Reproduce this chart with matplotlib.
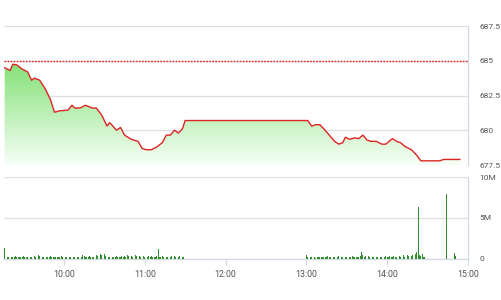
import matplotlib
matplotlib.use("Agg")
import matplotlib.pyplot as plt
import numpy as np
from matplotlib.patches import Polygon

plt.rcParams["font.family"] = ["Roboto", "DejaVu Sans"]

# ---------------- data ----------------
price_times = ["09:16", "09:20", "09:22", "09:25", "09:29", "09:33", "09:36", "09:38", "09:42", "09:46",
               "09:50", "09:53", "09:57", "10:03", "10:06", "10:08", "10:12", "10:16", "10:21", "10:24",
               "10:28", "10:32", "10:34", "10:39", "10:42", "10:45", "10:50", "10:55", "10:58", "11:01",
               "11:05", "11:09", "11:13", "11:16", "11:19", "11:22", "11:25", "11:28", "11:30", "13:01",
               "13:04", "13:07", "13:10", "13:13", "13:17", "13:21", "13:24", "13:27", "13:29", "13:32",
               "13:36", "13:39", "13:42", "13:45", "13:48", "13:52", "13:56", "13:59", "14:04", "14:07",
               "14:10", "14:13", "14:18", "14:22", "14:25", "14:39", "14:42", "14:54"]
price_values = [684.5, 684.3, 684.75, 684.7, 684.4, 684.2, 683.6, 683.75, 683.6, 683.0,
                682.2, 681.3, 681.4, 681.45, 681.8, 681.6, 681.6, 681.8, 681.6, 681.6,
                681.1, 680.3, 680.55, 680.0, 680.2, 679.65, 679.35, 679.2, 678.7, 678.6,
                678.6, 678.8, 679.1, 679.65, 679.65, 680.0, 679.8, 680.1, 680.7, 680.7,
                680.3, 680.4, 680.4, 680.1, 679.65, 679.2, 679.0, 679.1, 679.5, 679.35,
                679.45, 679.4, 679.65, 679.3, 679.2, 679.2, 679.0, 679.0, 679.4, 679.2,
                679.1, 678.85, 678.6, 678.2, 677.8, 677.8, 677.9, 677.9]
reference_price = 685.0

# volume in units of 100k shares, one bar per minute
vol_am_start = "09:16"
vol_am = [13, 2, 3, 2, 4, 3, 2, 3, 4, 3, 2, 3, 3, 2, 4, 3, 2, 3, 2, 3,
          3, 2, 4, 3, 3, 5, 4, 4, 3, 2, 3, 3, 2, 3, 4, 3, 2, 3, 3, 2,
          3, 2, 4, 3, 2, 3, 3, 4, 3, 2, 3, 3, 2, 4, 3, 3, 4, 3, 5, 4,
          3, 2, 3, 4, 3, 2, 3, 4, 5, 4, 3, 6, 5, 12, 6, 4, 3, 2, 3, 4,
          3, 2, 3, 4, 3, 3, 2, 4, 3, 4, 3, 5, 4, 3, 4, 3, 4, 5, 4, 3,
          4, 3, 5, 4, 3, 2, 3, 4, 3, 4, 3, 2, 3, 4, 12, 3, 2, 4, 3, 2,
          3, 2, 3, 3, 4, 3, 4, 3, 5, 3, 4, 7, 3, 2]
vol_pm_start = "13:00"
vol_pm = [5, 2, 1, 2, 2, 3, 2, 1, 2, 3, 2, 3, 2, 3, 2, 3, 4, 3, 2, 3,
          2, 3, 3, 2, 4, 3, 3, 2, 3, 2, 3, 2, 3, 3, 4, 3, 2, 3, 2, 3,
          4, 8, 5, 3, 4, 3, 4, 3, 4, 3, 3, 4, 3, 2, 4, 3, 3, 2, 3, 4,
          3, 2, 4, 3, 3, 4, 3, 2, 3, 4, 3, 4, 5, 3, 4, 5, 4, 5, 4, 5,
          4, 6, 9, 63, 5, 4, 6, 3, 2]
vol_atc_times = ["14:44", "14:50", "14:51"]
vol_atc = [79, 7, 4]

x_ticks = ["10:00", "11:00", "12:00", "13:00", "14:00", "15:00"]
price_ticks = [677.5, 680, 682.5, 685, 687.5]
price_tick_labels = ["677.5", "680", "682.5", "685", "687.5"]
vol_ticks = [0, 5e6, 10e6]
vol_tick_labels = ["0", "5M", "10M"]


def to_min(s):
    h, m = s.split(":")
    return int(h) * 60 + int(m) - 9 * 60


px = np.array([to_min(t) for t in price_times], dtype=float)
py = np.array(price_values)
vx = ([to_min(vol_am_start) + i for i in range(len(vol_am))]
      + [to_min(vol_pm_start) + i for i in range(len(vol_pm))]
      + [to_min(t) for t in vol_atc_times])
vy = np.array(vol_am + vol_pm + vol_atc, dtype=float) * 1e5

# ---------------- figure ----------------
fig = plt.figure(figsize=(5.01, 3.0), dpi=100)
grid_c = "#dcdfe4"
spine_c = "#d3dae6"
text_c = "#555555"
xmin, xmax = 15.5, 360

ax = fig.add_axes([0.008, 0.45, 0.926, 0.4633])
ax.set_xlim(xmin, xmax)
ax.set_ylim(677.5, 687.5)

# gradient fill under line
grad = np.linspace(0, 1, 256).reshape(-1, 1)
top = np.array([0.50, 0.88, 0.45])
bot = np.array([0.97, 1.0, 0.97])
cols = top[None, None, :] * (1 - grad[:, :, None]) + bot[None, None, :] * grad[:, :, None]
cols = np.repeat(cols, 2, axis=1)
im = ax.imshow(cols, extent=[xmin, xmax, 677.5, 685.0], origin="upper",
               aspect="auto", zorder=1)
verts = [(px[0], 677.5)] + list(zip(px, py)) + [(px[-1], 677.5)]
poly = Polygon(verts, closed=True, facecolor="none", edgecolor="none")
ax.add_patch(poly)
im.set_clip_path(poly)

ax.plot(px, py, color="#e02424", lw=1.0, zorder=3)
ax.axhline(reference_price, color="#e02424", lw=1.0, ls=(0, (1.2, 1.0)), zorder=3)

ax.set_yticks(price_ticks)
ax.set_yticklabels(price_tick_labels)
ax.yaxis.tick_right()
ax.tick_params(axis="y", length=0, pad=8, labelsize=6.0, labelcolor=text_c)
ax.set_xticks([to_min(t) for t in x_ticks])
ax.tick_params(axis="x", length=0, labelbottom=False)
ax.grid(True, axis="y", color=grid_c, lw=0.9)
ax.grid(False, axis="x")
for s in ["left", "top", "bottom"]:
    ax.spines[s].set_visible(False)
ax.spines["right"].set_color(spine_c)
ax.spines["right"].set_linewidth(0.9)
ax.set_axisbelow(True)

# volume
ax2 = fig.add_axes([0.008, 0.1367, 0.926, 0.2733])
ax2.set_xlim(xmin, xmax)
ax2.set_ylim(0, 10e6)
ax2.bar(vx, vy, width=0.6, color="#2f8f2f", zorder=3)
ax2.set_yticks(vol_ticks)
ax2.set_yticklabels(vol_tick_labels)
ax2.yaxis.tick_right()
ax2.tick_params(axis="y", length=0, pad=8, labelsize=6.0, labelcolor=text_c)
ax2.set_xticks([to_min(t) for t in x_ticks])
ax2.set_xticklabels(x_ticks)
ax2.tick_params(axis="x", length=4, width=0.8, color=spine_c, pad=4,
                labelsize=6.3, labelcolor=text_c)
ax2.grid(True, axis="y", color=grid_c, lw=0.9)
for s in ["left", "top"]:
    ax2.spines[s].set_visible(False)
ax2.spines["right"].set_color(spine_c)
ax2.spines["bottom"].set_color(spine_c)
ax2.spines["right"].set_linewidth(0.9)
ax2.spines["bottom"].set_linewidth(0.9)
ax2.set_axisbelow(True)

fig.savefig("out.png", dpi=100, facecolor="white")
